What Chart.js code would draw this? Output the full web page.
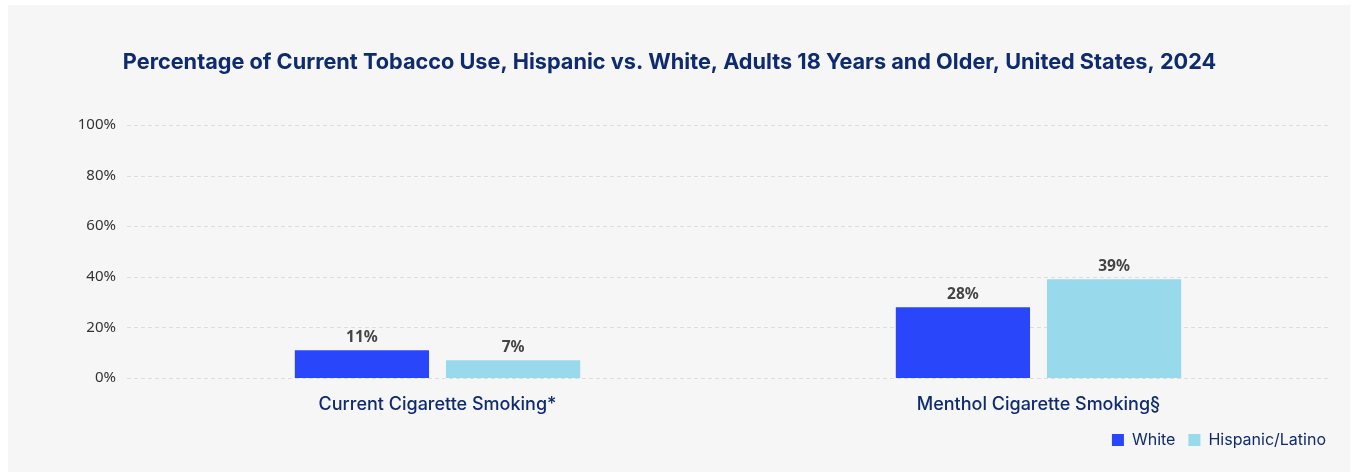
<!DOCTYPE html>
<html>
<head>
<meta charset="utf-8">
<script src="https://cdn.jsdelivr.net/npm/chart.js@4.4.1/dist/chart.umd.min.js"></script>
<style>
  html, body { margin: 0; padding: 0; background: #ffffff; overflow: hidden; }
  #panel { position: absolute; left: 8px; top: 5px; width: 1342px; height: 467px; background: #f6f6f6; }
  #chart { position: absolute; left: 0; top: 0; }
</style>
</head>
<body>
<div id="panel"></div>
<canvas id="chart" width="1354" height="472"></canvas>
<script>
var categories = ['Current Cigarette Smoking*', 'Menthol Cigarette Smoking\u00a7'];
var whiteValues = [11, 28];
var hispanicValues = [7, 39];
var yTicks = [0, 20, 40, 60, 80, 100];

var navy = '#0f2b6f';

// dashed horizontal grid, shifted a little left of the plot like the original
var dashedGrid = {
    id: 'dashedGrid',
    beforeDatasetsDraw: function(chart) {
        var ctx = chart.ctx, area = chart.chartArea, y = chart.scales.y;
        ctx.save();
        ctx.strokeStyle = '#dddddd';
        ctx.lineWidth = 1;
        ctx.setLineDash([4, 3]);
        for (var i = 0; i < yTicks.length; i++) {
            var py = Math.round(y.getPixelForValue(yTicks[i])) + 0.5;
            ctx.beginPath();
            ctx.moveTo(area.left - 10, py);
            ctx.lineTo(area.right - 10, py);
            ctx.stroke();
        }
        ctx.restore();
    }
};

// value labels above each bar
var barLabels = {
    id: 'barLabels',
    afterDatasetsDraw: function(chart) {
        var ctx = chart.ctx;
        ctx.save();
        ctx.font = 'bold 15.5px "Noto Sans"';
        ctx.fillStyle = '#444444';
        ctx.textAlign = 'center';
        ctx.textBaseline = 'middle';
        chart.data.datasets.forEach(function(ds, i) {
            chart.getDatasetMeta(i).data.forEach(function(bar, j) {
                ctx.fillText(ds.data[j] + '%', bar.x, bar.y - 13);
            });
        });
        ctx.restore();
    }
};

var ctx = document.getElementById('chart').getContext('2d');
var myChart = new Chart(ctx, {
    type: 'bar',
    data: {
        labels: categories,
        datasets: [{
            label: 'White',
            data: whiteValues,
            backgroundColor: '#2a46fa'
        }, {
            label: 'Hispanic/Latino',
            data: hispanicValues,
            backgroundColor: '#98d9ec'
        }]
    },
    options: {
        responsive: false,
        animation: false,
        devicePixelRatio: 1,
        layout: { padding: { left: 0, right: 15, top: 0, bottom: 14 } },
        categoryPercentage: 0.503,
        barPercentage: 0.888,
        scales: {
            x: {
                grid: { display: false, drawTicks: false },
                border: { display: false },
                ticks: { color: navy, padding: 16, font: { family: 'Inter', size: 18, weight: '500' } },
                afterFit: function(scale) { scale.height = 41; }
            },
            y: {
                min: 0,
                max: 100,
                afterBuildTicks: function(scale) {
                    scale.ticks = yTicks.map(function(v) { return { value: v }; });
                },
                grid: { display: false, drawTicks: false },
                border: { display: false },
                ticks: {
                    color: '#333333',
                    padding: 21,
                    font: { family: 'Noto Sans', size: 15 },
                    callback: function(v) { return v + '%'; }
                },
                afterFit: function(scale) { scale.width = 137; }
            }
        },
        plugins: {
            title: {
                display: true,
                text: 'Percentage of Current Tobacco Use, Hispanic vs. White, Adults 18 Years and Older, United States, 2024',
                color: navy,
                font: { family: 'Inter', size: 21.7, weight: '700' },
                padding: { top: 49, bottom: 50 }
            },
            legend: {
                position: 'bottom',
                align: 'end',
                labels: {
                    color: navy,
                    boxWidth: 12,
                    boxHeight: 12,
                    padding: 13,
                    font: { family: 'Inter', size: 16 }
                }
            },
            tooltip: { enabled: false }
        }
    },
    plugins: [dashedGrid, barLabels]
});
</script>
</body>
</html>
